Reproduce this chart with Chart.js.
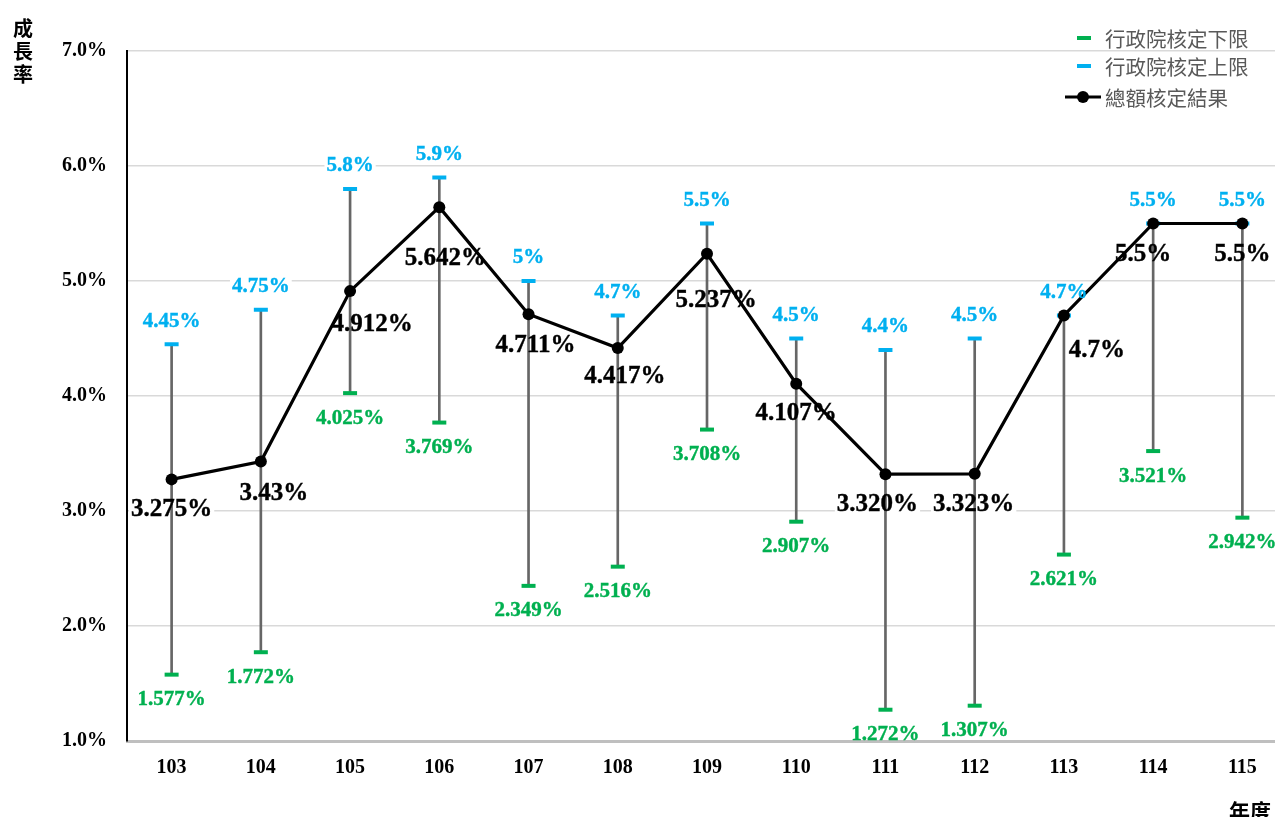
<!DOCTYPE html>
<html>
<head>
<meta charset="utf-8">
<script src="https://cdn.jsdelivr.net/npm/chart.js@4"></script>
<style>
html,body{margin:0;padding:0;background:#fff;overflow:hidden;width:1275px;height:817px;}
#wrap{position:absolute;left:0;top:0;width:1300px;height:817px;}
canvas{display:block;}
</style>
</head>
<body>
<div id="wrap"><canvas id="c" width="1300" height="817" style="width:1300px;height:817px"></canvas></div>
<script>
// ---- data ----
const categories = ['103','104','105','106','107','108','109','110','111','112','113','114','115'];
const lowerLimit = [1.577, 1.772, 4.025, 3.769, 2.349, 2.516, 3.708, 2.907, 1.272, 1.307, 2.621, 3.521, 2.942];
const upperLimit = [4.45, 4.75, 5.8, 5.9, 5.0, 4.7, 5.5, 4.5, 4.4, 4.5, 4.7, 5.5, 5.5];
const result = [3.275, 3.43, 4.912, 5.642, 4.711, 4.417, 5.237, 4.107, 3.320, 3.323, 4.7, 5.5, 5.5];
const lowerLabels = ['1.577%','1.772%','4.025%','3.769%','2.349%','2.516%','3.708%','2.907%','1.272%','1.307%','2.621%','3.521%','2.942%'];
const upperLabels = ['4.45%','4.75%','5.8%','5.9%','5%','4.7%','5.5%','4.5%','4.4%','4.5%','4.7%','5.5%','5.5%'];
const resultLabels = ['3.275%','3.43%','4.912%','5.642%','4.711%','4.417%','5.237%','4.107%','3.320%','3.323%','4.7%','5.5%','5.5%'];
const yTickLabels = ['1.0%','2.0%','3.0%','4.0%','5.0%','6.0%','7.0%'];
const seriesNames = ['行政院核定下限','行政院核定上限','總額核定結果'];

// ---- style ----
const GREEN = '#00B050', BLUE = '#00B0F0', BLACK = '#000000', GRAY = '#666666';
const SERIF = '"Liberation Serif", "Times New Roman", serif';
const CJK = '"Noto Sans CJK TC", "Noto Sans CJK SC", sans-serif';
const resultLabelOffsets = [[0,30],[13,32],[22,33],[6,51],[7,31],[7,29],[9,47],[0,30],[-8,30],[-1,31],[33,35],[-10,31],[0,31]];

const ranges = lowerLimit.map((v,i)=>[v, upperLimit[i]]);

const labelPlugin = {
  id:'labels',
  beforeDatasetsDraw(chart){
    const ctx = chart.ctx;
    ctx.save();
    ctx.fillStyle = '#ffffff';
    forEachLabel(chart, (txt, x, y, font, color, bg) => {
      if(!bg) return;
      ctx.font = font;
      const w = ctx.measureText(txt).width;
      ctx.fillRect(x - w/2 - 2, y - 10, w + 4, 20);
    });
    ctx.restore();
  },
  afterDatasetsDraw(chart){
    const ctx = chart.ctx;
    ctx.save();
    ctx.textAlign = 'center';
    ctx.textBaseline = 'middle';
    forEachLabel(chart, (txt, x, y, font, color) => {
      ctx.font = font;
      ctx.fillStyle = color;
      ctx.strokeStyle = color;
      ctx.lineWidth = 0.4;
      ctx.fillText(txt, x, y);
      ctx.strokeText(txt, x, y);
    });
    ctx.restore();
  },
  afterDraw(chart){
    const ctx = chart.ctx;
    ctx.save();
    ctx.fillStyle = '#000';
    ctx.font = 'bold 20px ' + CJK;
    ctx.textAlign = 'center';
    ctx.textBaseline = 'middle';
    ['成','長','率'].forEach((ch,i)=>ctx.fillText(ch, 23, 28 + i*23));
    ctx.font = 'bold 21px ' + CJK;
    ctx.fillText('年度', 1250, 811);
    ctx.textAlign = 'left';
    ctx.font = '20.5px ' + CJK;
    const items = [
      {y:38, color:GREEN, type:'dash'},
      {y:66, color:BLUE, type:'dash'},
      {y:97, color:BLACK, type:'line'}
    ];
    items.forEach((it,i)=>{
      ctx.strokeStyle = it.color;
      ctx.fillStyle = it.color;
      if(it.type==='dash'){
        ctx.lineWidth = 4;
        ctx.beginPath(); ctx.moveTo(1077, it.y); ctx.lineTo(1091, it.y); ctx.stroke();
      } else {
        ctx.lineWidth = 3;
        ctx.beginPath(); ctx.moveTo(1065, it.y); ctx.lineTo(1101, it.y); ctx.stroke();
        ctx.beginPath(); ctx.arc(1083, it.y, 6, 0, Math.PI*2); ctx.fill();
      }
      ctx.fillStyle = '#595959';
      ctx.fillText(seriesNames[i], 1105, it.y + 1);
    });
    ctx.restore();
  }
};

function forEachLabel(chart, fn){
  const xs = chart.scales.x, ys = chart.scales.y;
  const smallFont = 'bold 21px ' + SERIF;
  const bigFont = 'bold 25px ' + SERIF;
  categories.forEach((c,i)=>{
    const x = xs.getPixelForValue(i);
    fn(upperLabels[i], x, ys.getPixelForValue(upperLimit[i]) - 23, smallFont, BLUE, true);
    fn(lowerLabels[i], x, ys.getPixelForValue(lowerLimit[i]) + 25, smallFont, GREEN, false);
    const o = resultLabelOffsets[i];
    fn(resultLabels[i], x + o[0], ys.getPixelForValue(result[i]) + o[1], bigFont, BLACK, true);
  });
}

new Chart(document.getElementById('c'), {
  type:'bar',
  data:{
    labels: categories,
    datasets:[
      {type:'bar', label:'range', data:ranges, backgroundColor:GRAY, borderWidth:0, barThickness:2, order:4},
      {type:'line', label:seriesNames[0], data:lowerLimit, showLine:false, pointStyle:'line', pointRadius:7, pointBorderWidth:4, pointBorderColor:GREEN, pointBackgroundColor:GREEN, borderColor:GREEN, order:3},
      {type:'line', label:seriesNames[1], data:upperLimit, showLine:false, pointStyle:'line', pointRadius:7, pointBorderWidth:4, pointBorderColor:BLUE, pointBackgroundColor:BLUE, borderColor:BLUE, order:2},
      {type:'line', label:seriesNames[2], data:result, borderColor:BLACK, borderWidth:3.2, pointRadius:6, pointBackgroundColor:BLACK, pointBorderColor:BLACK, pointBorderWidth:0, tension:0, order:1}
    ]
  },
  options:{
    responsive:false,
    animation:false,
    events:[],
    layout:{padding:{top:51, right:13, left:0, bottom:0}},
    plugins:{legend:{display:false}, tooltip:{enabled:false}},
    scales:{
      x:{
        offset:true,
        grid:{display:false, drawTicks:false},
        border:{color:'#BFBFBF', width:3},
        ticks:{color:'#000', font:{family:SERIF, size:20, weight:'bold'}, padding:15, maxRotation:0},
        afterFit(s){ s.height = 76; }
      },
      y:{
        min:1, max:7,
        grid:{color:'#D9D9D9', lineWidth:1.5, drawTicks:false},
        border:{color:'#000', width:2},
        ticks:{stepSize:1, color:'#000', font:{family:SERIF, size:20, weight:'bold'}, padding:20,
          callback:(v)=>{ const k = Math.round(v-1); return yTickLabels[k]; }},
        afterFit(s){ s.width = 127; }
      }
    }
  },
  plugins:[labelPlugin]
});
</script>
</body>
</html>
